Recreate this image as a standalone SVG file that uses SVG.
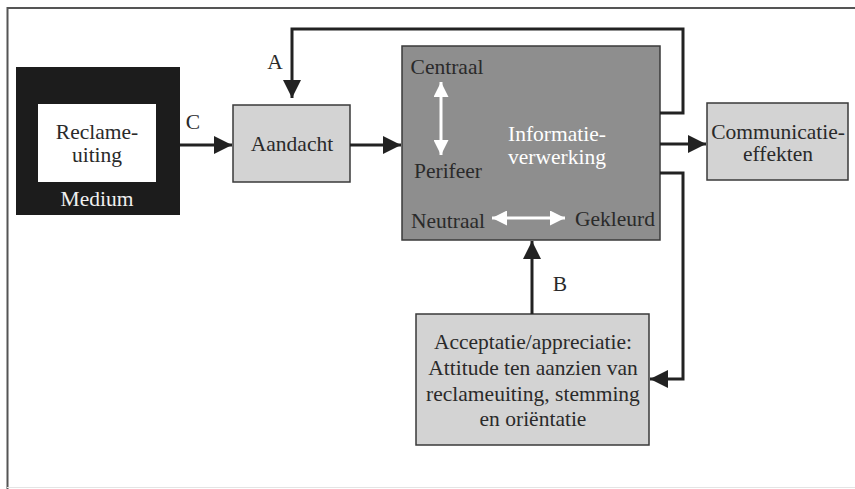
<svg xmlns="http://www.w3.org/2000/svg" width="855" height="489" viewBox="0 0 855 489">
<style>
text{font-family:"Liberation Serif","DejaVu Serif",serif;font-size:21.5px;fill:#2a2a2a;text-anchor:middle}
.lt{fill:#d3d3d3;stroke:#3a3a3a;stroke-width:1.5}
.ln{fill:none;stroke:#222;stroke-width:3}
.wl{fill:none;stroke:#fff;stroke-width:3}
</style>
<defs>
<marker id="ah" viewBox="0 0 10 10" refX="10" refY="5" markerWidth="8" markerHeight="6" markerUnits="strokeWidth" orient="auto"><path d="M0,0 L10,5 L0,10 z" fill="#222"/></marker>
<marker id="wh" viewBox="0 0 10 10" refX="10" refY="5" markerWidth="7" markerHeight="5" markerUnits="strokeWidth" orient="auto-start-reverse"><path d="M0,0 L10,5 L0,10 z" fill="#fff"/></marker>
</defs>
<rect width="855" height="489" fill="#fff"/>
<path d="M855,8 H7.5 V489" fill="none" stroke="#555" stroke-width="2"/>
<path d="M7,487.5 H855" fill="none" stroke="#e4e4e4" stroke-width="1"/>

<g id="medium">
<rect x="16" y="67" width="164" height="148" fill="#1c1c1c"/>
<rect x="38" y="104" width="118" height="78" fill="#fff"/>
<text x="97" y="139">Reclame-</text>
<text x="97" y="162">uiting</text>
<text x="97" y="206" style="fill:#f0f0f0">Medium</text>
</g>

<g id="aandacht">
<rect class="lt" x="233" y="105" width="117" height="77"/>
<text x="292" y="151">Aandacht</text>
</g>

<g id="informatieverwerking">
<rect x="402" y="46" width="258" height="194" fill="#8e8e8e" stroke="#3a3a3a" stroke-width="1.5"/>
<text x="447" y="74">Centraal</text>
<text x="448" y="178">Perifeer</text>
<text x="557" y="141" style="fill:#fff">Informatie-</text>
<text x="557" y="164" style="fill:#fff">verwerking</text>
<text x="448" y="228">Neutraal</text>
<text x="615" y="226">Gekleurd</text>
<path class="wl" d="M441,82 V155" marker-start="url(#wh)" marker-end="url(#wh)"/>
<path class="wl" d="M492,218 H565" marker-start="url(#wh)" marker-end="url(#wh)"/>
</g>

<g id="communicatie">
<rect class="lt" x="707" y="103" width="141" height="77"/>
<text x="778" y="139">Communicatie-</text>
<text x="778" y="161">effekten</text>
</g>

<g id="acceptatie">
<rect class="lt" x="416" y="314" width="233" height="131"/>
<text x="533" y="349">Acceptatie/appreciatie:</text>
<text x="533" y="375">Attitude ten aanzien van</text>
<text x="533" y="401">reclameuiting, stemming</text>
<text x="533" y="426">en oriëntatie</text>
</g>

<g id="connectors">
<path class="ln" d="M180,145 H232" marker-end="url(#ah)"/>
<path class="ln" d="M350,145 H401" marker-end="url(#ah)"/>
<path class="ln" d="M660,144 H706" marker-end="url(#ah)"/>
<path class="ln" d="M660,113 H683 V29 H292 V98" marker-end="url(#ah)"/>
<path class="ln" d="M660,173 H683 V379 H650" marker-end="url(#ah)"/>
<path class="ln" d="M532,314 V241" marker-end="url(#ah)"/>
<text x="193" y="129">C</text>
<text x="275" y="69">A</text>
<text x="560" y="291">B</text>
</g>
</svg>
